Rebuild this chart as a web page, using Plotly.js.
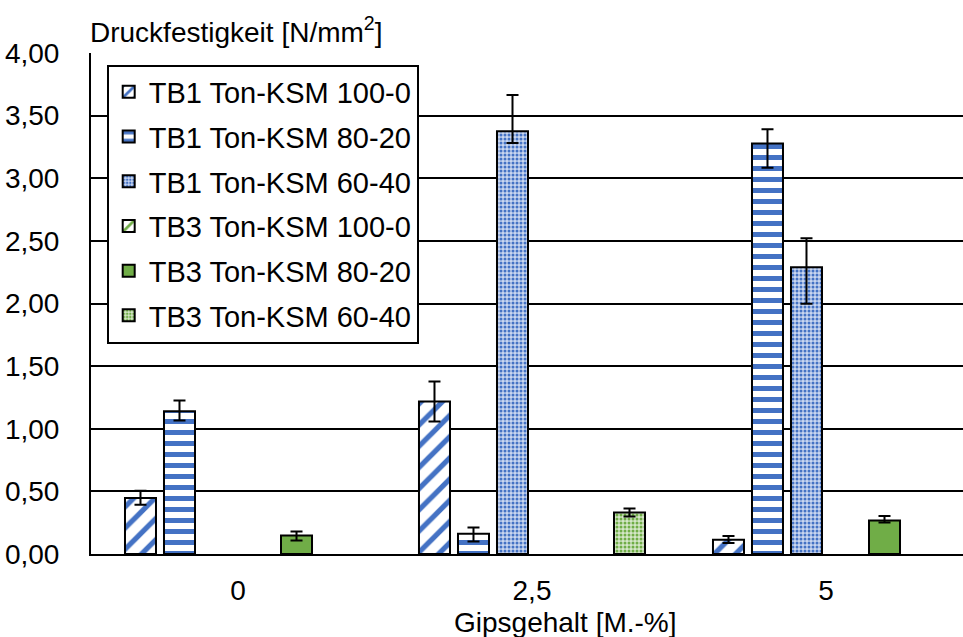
<!DOCTYPE html>
<html>
<head>
<meta charset="utf-8">
<script src="https://cdn.plot.ly/plotly-3.0.1.min.js"></script>
<style>html,body{margin:0;padding:0;background:#fff;}#chart{width:963px;height:637px;}</style>
</head>
<body>
<div id="chart"></div>
<script>
const categories = ['0', '2,5', '5'];
const seriesNames = ['TB1 Ton-KSM 100-0', 'TB1 Ton-KSM 80-20', 'TB1 Ton-KSM 60-40',
                     'TB3 Ton-KSM 100-0', 'TB3 Ton-KSM 80-20', 'TB3 Ton-KSM 60-40'];
const tb1_100_0 = [0.447, 1.217, 0.114];
const tb1_100_0_plus = [0.058, 0.16, 0.03];
const tb1_100_0_minus = [0.054, 0.16, 0.026];
const tb1_80_20 = [1.14, 0.162, 3.278];
const tb1_80_20_plus = [0.085, 0.05, 0.114];
const tb1_80_20_minus = [0.075, 0.062, 0.195];
const tb1_60_40 = [null, 3.376, 2.289];
const tb1_60_40_plus = [null, 0.289, 0.231];
const tb1_60_40_minus = [null, 0.094, 0.291];
const tb3_100_0 = [null, null, null];
const tb3_100_0_plus = [null, null, null];
const tb3_100_0_minus = [null, null, null];
const tb3_80_20 = [0.148, null, 0.268];
const tb3_80_20_plus = [0.032, null, 0.035];
const tb3_80_20_minus = [0.04, null, 0.016];
const tb3_60_40 = [null, 0.332, null];
const tb3_60_40_plus = [null, 0.032, null];
const tb3_60_40_minus = [null, 0.032, null];
const yTickVals = [0, 0.5, 1, 1.5, 2, 2.5, 3, 3.5, 4];

const blue = '#4472C4', green = '#70AD47';
const values = [tb1_100_0, tb1_80_20, tb1_60_40, tb3_100_0, tb3_80_20, tb3_60_40];
const plus = [tb1_100_0_plus, tb1_80_20_plus, tb1_60_40_plus, tb3_100_0_plus, tb3_80_20_plus, tb3_60_40_plus];
const minus = [tb1_100_0_minus, tb1_80_20_minus, tb1_60_40_minus, tb3_100_0_minus, tb3_80_20_minus, tb3_60_40_minus];
const patterns = [
  {shape: '/', fgcolor: blue, bgcolor: 'white', fgopacity: 1, size: 15, solidity: 0.35, fillmode: 'replace'},
  {shape: '-', fgcolor: blue, bgcolor: 'white', fgopacity: 1, size: 11, solidity: 0.45, fillmode: 'replace'},
  {shape: '.', fgcolor: blue, bgcolor: '#c9d6f0', fgopacity: 1, size: 4, solidity: 0.45, fillmode: 'replace'},
  {shape: '/', fgcolor: green, bgcolor: 'white', fgopacity: 1, size: 15, solidity: 0.35, fillmode: 'replace'},
  {shape: '', fgcolor: green, bgcolor: green},
  {shape: '.', fgcolor: green, bgcolor: '#d5e7c8', fgopacity: 1, size: 4, solidity: 0.45, fillmode: 'replace'}
];
const colors = ['white', 'white', '#c9d6f0', 'white', green, '#d5e7c8'];

const traces = values.map((v, i) => ({
  type: 'bar',
  name: seriesNames[i],
  x: categories,
  y: v,
  legendgroup: 'g' + i,
  marker: {color: colors[i], pattern: patterns[i], line: {color: 'black', width: 2}},
  error_y: {type: 'data', symmetric: false, array: plus[i], arrayminus: minus[i],
            color: 'black', thickness: 2, width: 6},
  hoverinfo: 'none'
}));

const F = 'Arial, "Liberation Sans", sans-serif';
const layout = {
  width: 963, height: 637,
  margin: {l: 91, r: 0, t: 53, b: 83},
  paper_bgcolor: 'white', plot_bgcolor: 'white',
  separators: ',.',
  font: {family: F, size: 28, color: 'black'},
  barmode: 'group', bargap: 0.204, bargroupgap: 0.205,
  showlegend: true,
  legend: {x: 0.018, y: 0.977, xanchor: 'left', yanchor: 'top',
           bordercolor: 'black', borderwidth: 2, bgcolor: 'white',
           font: {family: F, size: 29, color: 'black'},
           traceorder: 'grouped', tracegroupgap: 4},
  xaxis: {type: 'category', range: [-0.5, 2.466], showgrid: false, showline: true,
          linecolor: 'black', linewidth: 2, ticks: '', ticklabelstandoff: 10,
          tickfont: {family: F, size: 28, color: 'black'}, zeroline: false, fixedrange: true},
  yaxis: {range: [0, 4], tickvals: yTickVals, tickformat: '.2f', showgrid: true,
          gridcolor: 'black', gridwidth: 2, showline: true, linecolor: 'black', linewidth: 2,
          ticks: '', ticklabelstandoff: 24, zeroline: false,
          tickfont: {family: F, size: 28, color: 'black'}, fixedrange: true},
  annotations: [
    {text: 'Druckfestigkeit [N/mm<sup>2</sup>]', xref: 'paper', yref: 'paper',
     x: -0.004, y: 1.045, xanchor: 'left', yanchor: 'middle', showarrow: false,
     font: {family: F, size: 28, color: 'black'}},
    {text: 'Gipsgehalt [M.-%]', xref: 'paper', yref: 'paper',
     x: 0.5436, y: -0.137, xanchor: 'center', yanchor: 'middle', showarrow: false,
     font: {family: F, size: 28, color: 'black'}}
  ]
};
Plotly.newPlot('chart', traces, layout, {staticPlot: true});
</script>
</body>
</html>
